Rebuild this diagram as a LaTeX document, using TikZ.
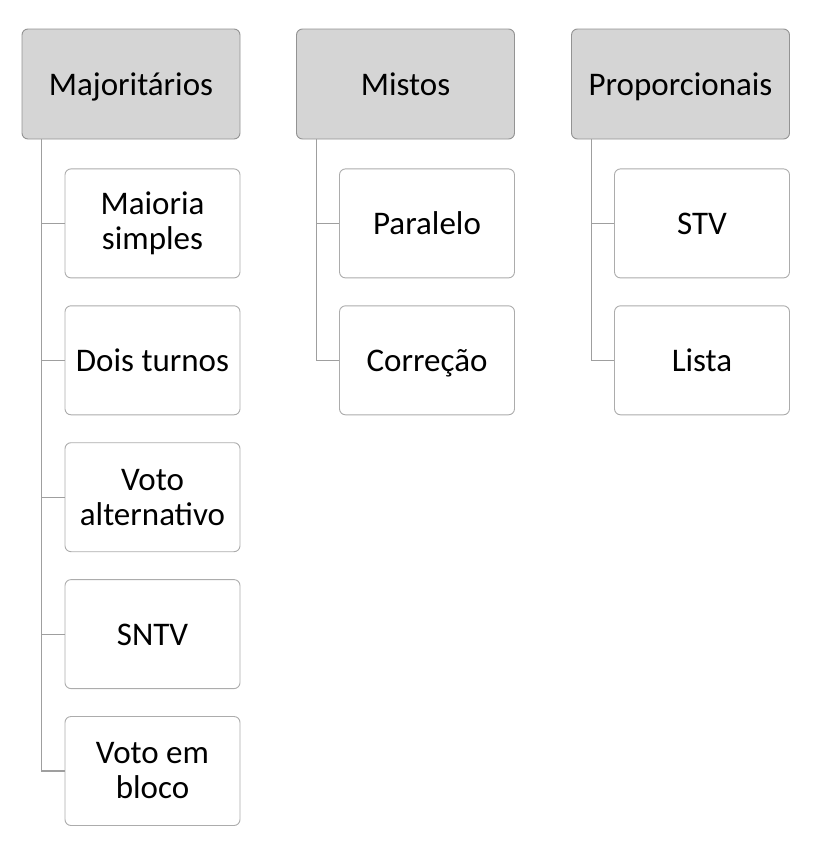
\documentclass[tikz,border=0pt]{standalone}
\usepackage{fontspec}
\setmainfont{Carlito}
\usetikzlibrary{positioning}

\begin{document}
\begin{tikzpicture}[x=1pt, y=-1pt,
  head/.style={draw=gray!85, fill=gray!33, rounded corners=6pt, line width=0.9pt,
    minimum width=218pt, minimum height=110pt,
    text height=22pt, text depth=0pt,
    font=\fontsize{33}{35}\selectfont},
  box/.style={draw=gray!65, fill=white, rounded corners=6pt, line width=0.9pt,
    minimum width=175pt, minimum height=109pt,
    font=\fontsize{33}{35}\selectfont},
  item/.style={box, align=center},
  one/.style={box, text height=22pt, text depth=0pt},
  link/.style={draw=gray!75, line width=1.1pt},
  node distance=27pt]
  \useasboundingbox (0,0) rectangle (830,854);

  %Define nodes
  \node[head] (maj) at (131,84) {Majoritários};
  \node[head] (mis) at (405.5,84) {Mistos};
  \node[head] (pro) at (680.5,84) {Proporcionais};

  \node[item, below=29pt of maj.south east, anchor=north east] (m1) {Maioria\\simples};
  \node[one, below=of m1] (m2) {Dois turnos};
  \node[item, below=of m2] (m3) {Voto\\alternativo};
  \node[one, below=of m3] (m4) {SNTV};
  \node[item, below=of m4] (m5) {Voto em\\bloco};

  \node[one, below=29pt of mis.south east, anchor=north east] (x1) {Paralelo};
  \node[one, below=of x1] (x2) {Correção};

  \node[one, below=29pt of pro.south east, anchor=north east] (p1) {STV};
  \node[one, below=of p1] (p2) {Lista};

  % Connect the nodes
  \coordinate[right=20pt of maj.south west] (majl);
  \coordinate[right=20pt of mis.south west] (misl);
  \coordinate[right=20pt of pro.south west] (prol);

  \foreach \c in {m1,m2,m3,m4,m5} \draw[link] (majl) |- (\c.west);
  \foreach \c in {x1,x2} \draw[link] (misl) |- (\c.west);
  \foreach \c in {p1,p2} \draw[link] (prol) |- (\c.west);

\end{tikzpicture}
\end{document}
